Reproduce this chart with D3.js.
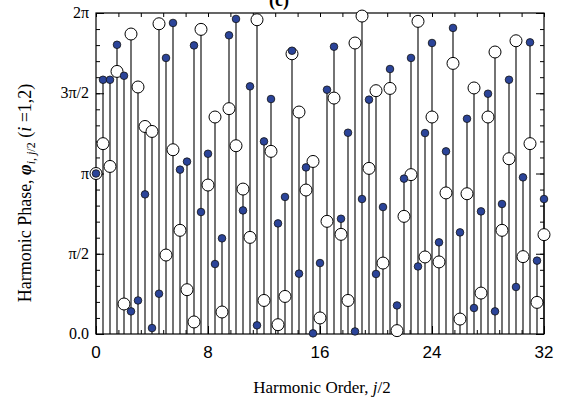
<!DOCTYPE html>
<html>
<meta charset="UTF-8">

<head>
  <script src="https://cdn.jsdelivr.net/npm/d3@7"></script>
  <style>
    body { margin: 0; background: #fff; }
    .serif { font-family: "Liberation Serif", "Times New Roman", serif; }
    .sans { font-family: "Liberation Sans", Arial, sans-serif; }
  </style>
</head>

<body>
  <svg id="chart" width="561" height="401"></svg>

  <script type="text/javascript">
    // harmonic order j/2
    const orders = [0, 0.5, 1, 1.5, 2, 2.5, 3, 3.5, 4, 4.5, 5, 5.5, 6, 6.5, 7, 7.5,
      8, 8.5, 9, 9.5, 10, 10.5, 11, 11.5, 12, 12.5, 13, 13.5, 14, 14.5, 15, 15.5,
      16, 16.5, 17, 17.5, 18, 18.5, 19, 19.5, 20, 20.5, 21, 21.5, 22, 22.5, 23, 23.5,
      24, 24.5, 25, 25.5, 26, 26.5, 27, 27.5, 28, 28.5, 29, 29.5, 30, 30.5, 31, 31.5, 32]

    // phase in units of pi, i = 1 (filled dots)
    const phase1 = [1.0, 1.584, 1.584, 1.802, 1.609, 0.141, 0.209, 0.870, 0.037, 0.251,
      1.720, 1.938, 1.024, 1.074, 1.798, 0.760, 1.123, 0.436, 0.596, 1.861,
      1.963, 0.770, 1.543, 0.054, 1.200, 1.464, 0.689, 0.854, 1.765, 0.376,
      1.038, 0.004, 0.442, 1.522, 1.790, 0.718, 1.254, 0.016, 0.841, 1.460,
      0.374, 0.791, 1.651, 0.178, 0.968, 1.720, 0.421, 1.252, 1.813, 0.571,
      1.138, 1.907, 0.633, 1.341, 0.162, 0.764, 1.497, 0.141, 0.810, 1.584,
      0.293, 0.976, 1.817, 0.457, 0.841]

    // phase in units of pi, i = 2 (open circles)
    const phase2 = [1.0, 1.186, 1.044, 1.636, 0.187, 1.869, 1.539, 1.293, 1.262, 1.933,
      0.492, 1.148, 0.646, 0.276, 0.075, 1.898, 0.928, 1.352, 0.137, 1.404,
      1.173, 0.903, 0.602, 1.958, 0.209, 1.138, 0.058, 0.234, 1.746, 1.383,
      0.897, 1.075, 0.100, 0.702, 1.470, 0.621, 0.209, 1.813, 1.981, 1.032,
      1.516, 0.442, 1.530, 0.021, 0.733, 0.993, 1.948, 0.480, 1.352, 0.449,
      0.879, 1.686, 0.093, 0.874, 1.533, 0.255, 1.352, 1.757, 0.646, 1.092,
      1.827, 0.482, 1.186, 0.197, 0.619]

    const yTicks = [0, 0.5, 1, 1.5, 2]
    const yTickLabels = ["0.0", "\u03c0/2", "\u03c0", "3\u03c0/2", "2\u03c0"]
    const xTicks = [0, 8, 16, 24, 32]

    const svg = d3.select("#chart")
    const mLeft = 96, mRight = 544, mTop = 13, mBottom = 334

    const x = d3.scaleLinear().domain([0, 32]).range([mLeft, mRight])
    const y = d3.scaleLinear().domain([0, 2]).range([mBottom, mTop])

    const yMinor = d3.range(0, 2.001, 0.1)
    const xMinor = d3.range(0, 32.01, 1.6)

    // axes: ticks pointing inward
    svg.append("g").attr("transform", `translate(${mLeft},0)`)
      .call(d3.axisRight(y).tickValues(yMinor).tickSize(4).tickFormat(""))
    svg.append("g").attr("transform", `translate(${mLeft},0)`)
      .call(d3.axisRight(y).tickValues(yTicks).tickSize(8).tickFormat(""))
    svg.append("g").attr("transform", `translate(${mRight},0)`)
      .call(d3.axisLeft(y).tickValues(yMinor).tickSize(4).tickFormat(""))
    svg.append("g").attr("transform", `translate(${mRight},0)`)
      .call(d3.axisLeft(y).tickValues(yTicks).tickSize(8).tickFormat(""))
    svg.append("g").attr("transform", `translate(0,${mBottom})`)
      .call(d3.axisTop(x).tickValues(xMinor).tickSize(4).tickFormat(""))
    svg.append("g").attr("transform", `translate(0,${mBottom})`)
      .call(d3.axisTop(x).tickValues(xTicks).tickSize(8).tickFormat(""))
    svg.append("g").attr("transform", `translate(0,${mTop})`)
      .call(d3.axisBottom(x).tickValues(xMinor).tickSize(4).tickFormat(""))

    svg.selectAll(".domain").remove()
    svg.selectAll(".tick line").attr("stroke", "#000").attr("stroke-width", 1)

    // y tick labels
    svg.append("g").selectAll("text")
      .data(yTicks)
      .enter()
      .append("text")
      .attr("class", "serif")
      .attr("x", mLeft - 7)
      .attr("y", d => y(d) + 5)
      .attr("text-anchor", "end")
      .style("font-size", "16px")
      .text((d, i) => yTickLabels[i])

    // x tick labels
    svg.append("g").selectAll("text")
      .data(xTicks)
      .enter()
      .append("text")
      .attr("class", "sans")
      .attr("x", d => x(d))
      .attr("y", mBottom + 24)
      .attr("text-anchor", "middle")
      .style("font-size", "17px")
      .text(d => d)

    // stems
    svg.append("g").selectAll("line")
      .data(orders)
      .enter()
      .append("line")
      .attr("x1", d => x(d))
      .attr("x2", d => x(d))
      .attr("y1", y(0))
      .attr("y2", (d, i) => y(Math.max(phase1[i], phase2[i])))
      .style("stroke", "#000")
      .style("stroke-width", 1.1)

    // frame
    svg.append("rect")
      .attr("x", mLeft).attr("y", mTop)
      .attr("width", mRight - mLeft).attr("height", mBottom - mTop)
      .style("fill", "none").style("stroke", "#000").style("stroke-width", 1.2)

    // open circles (i = 2)
    svg.append("g").selectAll("circle")
      .data(orders)
      .enter()
      .append("circle")
      .attr("cx", d => x(d))
      .attr("cy", (d, i) => y(phase2[i]))
      .attr("r", 6)
      .style("fill", "#fff")
      .style("stroke", "#000")
      .style("stroke-width", 1)

    // filled dots (i = 1)
    svg.append("g").selectAll("circle")
      .data(orders)
      .enter()
      .append("circle")
      .attr("cx", d => x(d))
      .attr("cy", (d, i) => y(phase1[i]))
      .attr("r", 3.8)
      .style("fill", "#2b4499")
      .style("stroke", "#111")
      .style("stroke-width", 0.8)

    // titles
    svg.append("text")
      .attr("class", "serif")
      .attr("x", 279).attr("y", 6)
      .attr("text-anchor", "middle")
      .style("font-size", "18px")
      .style("font-weight", "bold")
      .text("(c)")

    const xl = svg.append("text")
      .attr("class", "serif")
      .attr("x", 322).attr("y", 393)
      .attr("text-anchor", "middle")
      .style("font-size", "17px")
    xl.append("tspan").text("Harmonic Order, ")
    xl.append("tspan").style("font-style", "italic").text("j")
    xl.append("tspan").text("/2")

    const yl = svg.append("text")
      .attr("class", "serif")
      .attr("transform", "translate(31,193) rotate(-90)")
      .attr("text-anchor", "middle")
      .style("font-size", "18px")
    yl.append("tspan").text("Harmonic Phase, ")
    yl.append("tspan").style("font-style", "italic").style("font-weight", "bold").text("\u03c6")
    yl.append("tspan").style("font-style", "italic").style("font-size", "12px").attr("dy", 4).text("i, j")
    yl.append("tspan").style("font-size", "12px").text("/2")
    yl.append("tspan").attr("dy", -4).text(" (")
    yl.append("tspan").style("font-style", "italic").text("i")
    yl.append("tspan").text(" =1,2)")
  </script>
</body>

</html>
